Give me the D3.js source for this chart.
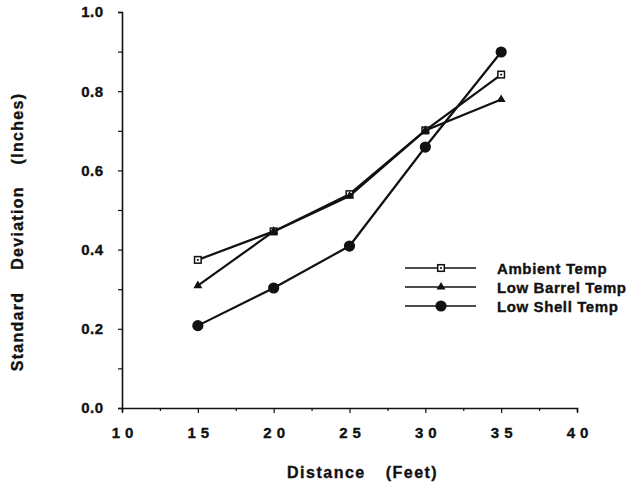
<!DOCTYPE html>
<html><head><meta charset="utf-8">
<script src="https://cdn.jsdelivr.net/npm/d3@7"></script>
<style>body{margin:0;background:#fff}text{font-family:"Liberation Sans",Arial,sans-serif;font-weight:bold;fill:#111;stroke:#111;stroke-width:0.35px}</style>
</head><body><svg id="c" width="644" height="494"></svg>
<script>
const distances = [15, 20, 25, 30, 35];
const ambientTemp = [0.374, 0.446, 0.540, 0.701, 0.842];
const lowBarrelTemp = [0.309, 0.446, 0.535, 0.701, 0.779];
const lowShellTemp = [0.208, 0.303, 0.409, 0.659, 0.899];
const seriesNames = ["Ambient Temp", "Low Barrel Temp", "Low Shell Temp"];
const xTicks = [10, 15, 20, 25, 30, 35, 40];
const yTicks = [0.0, 0.2, 0.4, 0.6, 0.8, 1.0];

const svg = d3.select("#c");
const x = d3.scaleLinear().domain([10, 40]).range([122, 577]);
const y = d3.scaleLinear().domain([0, 1]).range([408, 12]);
const ink = "#111";
const FF = '"Liberation Sans",Arial,sans-serif';

// axes
const xAxis = d3.axisBottom(x).tickValues(d3.range(10, 40.1, 2.5)).tickSize(4)
  .tickFormat(d => xTicks.includes(d) ? String(d) : "");
const gx = svg.append("g").attr("transform", "translate(0,408)").call(xAxis);
gx.select(".domain").attr("stroke", ink).attr("stroke-width", 1.6);
gx.selectAll(".tick line").attr("stroke", ink).attr("stroke-width", 1.2)
  .attr("y2", d => xTicks.includes(d) ? 5 : 3);
gx.selectAll(".tick text").attr("dy", 0).attr("y", 30)
  .attr("dx", 2.5)
  .style("font-family", FF).style("font-weight", "bold").style("font-size", "15px")
  .style("letter-spacing", "5px").attr("fill", ink);

const yAxis = d3.axisLeft(y).tickValues(d3.range(0, 1.001, 0.1)).tickSize(4)
  .tickFormat(d => yTicks.some(t => Math.abs(t - d) < 1e-6) ? d3.format(".1f")(d) : "");
const gy = svg.append("g").attr("transform", "translate(122,0)").call(yAxis);
gy.select(".domain").attr("stroke", ink).attr("stroke-width", 1.6);
gy.selectAll(".tick line").attr("stroke", ink).attr("stroke-width", 1.2);
gy.selectAll(".tick text").attr("x", -18.5)
  .style("font-family", FF).style("font-weight", "bold").style("font-size", "15px")
  .style("letter-spacing", "0.5px").attr("fill", ink);

// axis titles
svg.append("text").attr("x", 287).attr("y", 478).attr("text-anchor", "start")
  .style("font-size", "16px").style("letter-spacing", "1.5px").style("word-spacing", "14px")
  .text("Distance (Feet)");
svg.append("text").attr("transform", "translate(23,232) rotate(-90)").attr("text-anchor", "middle")
  .style("font-size", "16px").style("letter-spacing", "1.3px").style("word-spacing", "16px")
  .text("Standard Deviation (Inches)");

const series = [
  {name: seriesNames[0], values: ambientTemp, shape: "square"},
  {name: seriesNames[1], values: lowBarrelTemp, shape: "triangle"},
  {name: seriesNames[2], values: lowShellTemp, shape: "circle"}
];
const line = d3.line().x(d => x(d[0])).y(d => y(d[1]));

function marker(g, shape, cx, cy) {
  if (shape === "square") {
    g.append("rect").attr("x", cx - 3.3).attr("y", cy - 3.3).attr("width", 6.6).attr("height", 6.6)
      .attr("fill", "#fff").attr("stroke", ink).attr("stroke-width", 1.5);
    g.append("rect").attr("x", cx - 0.9).attr("y", cy - 0.9).attr("width", 1.8).attr("height", 1.8).attr("fill", ink);
  } else if (shape === "triangle") {
    g.append("path").attr("d", d3.symbol(d3.symbolTriangle, 34)()).attr("transform", `translate(${cx},${cy})`).attr("fill", ink);
  } else {
    g.append("circle").attr("cx", cx).attr("cy", cy).attr("r", 5.6).attr("fill", ink);
  }
}

series.forEach(s => {
  const pts = distances.map((d, i) => [d, s.values[i]]);
  svg.append("path").datum(pts).attr("d", line).attr("fill", "none")
    .attr("stroke", ink).attr("stroke-width", 2.2);
  const g = svg.append("g");
  pts.forEach(p => marker(g, s.shape, x(p[0]), y(p[1])));
});

// legend
const legY = [268, 287, 306];
series.forEach((s, i) => {
  const g = svg.append("g");
  g.append("line").attr("x1", 405).attr("x2", 476).attr("y1", legY[i]).attr("y2", legY[i])
    .attr("stroke", ink).attr("stroke-width", 1.5);
  marker(g, s.shape, 441, legY[i]);
  g.append("text").attr("x", 497).attr("y", legY[i] + 5.5).style("font-size", "15px")
    .style("letter-spacing", "0.6px").text(s.name);
});
</script></body></html>
